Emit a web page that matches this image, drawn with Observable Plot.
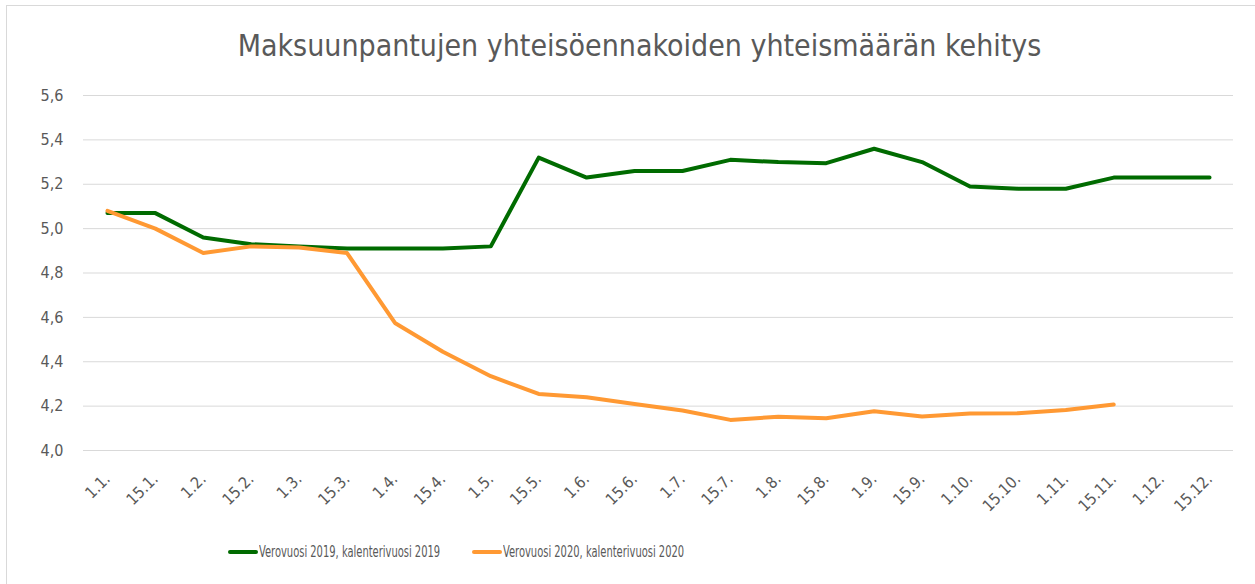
<!DOCTYPE html>
<html>
<head>
<meta charset="utf-8">
<script src="https://cdn.jsdelivr.net/npm/d3@7"></script>
<script src="https://cdn.jsdelivr.net/npm/@observablehq/plot@0.6"></script>
<style>
  body { margin: 0; background: #fff; }
  #wrap { position: relative; width: 1255px; height: 584px; overflow: hidden; font-family: "DejaVu Sans Condensed", "DejaVu Sans", sans-serif; }
  #frame { position: absolute; left: 6px; top: 5px; width: 1260px; height: 600px; border-top: 1px solid #d9d9d9; border-left: 1px solid #d9d9d9; }
  #title { position: absolute; left: 12px; width: 1255px; top: 27px; text-align: center; font-size: 30px; color: #595959; line-height: 38px; }
  #chart { position: absolute; left: 0; top: 75px; }
  #legend { position: absolute; left: 228px; top: 542px; height: 20px; font-size: 16px; color: #595959; line-height: 20px; }
  .item { position: absolute; top: 0; display: flex; align-items: center; white-space: nowrap; }
  .sw { width: 30px; height: 4px; border-radius: 2px; margin-right: 1px; flex: none; }
  .lbl { display: inline-block; transform: scaleX(0.69); transform-origin: 0 50%; }
</style>
</head>
<body>
<div id="wrap">
  <div id="frame"></div>
  <div id="title">Maksuunpantujen yhteisöennakoiden yhteismäärän kehitys</div>
  <div id="chart"></div>
  <div id="legend"></div>
</div>
<script>
const dates = ["1.1.","15.1.","1.2.","15.2.","1.3.","15.3.","1.4.","15.4.","1.5.","15.5.","1.6.","15.6.","1.7.","15.7.","1.8.","15.8.","1.9.","15.9.","1.10.","15.10.","1.11.","15.11.","1.12.","15.12."];
const v2019 = [5.07,5.07,4.96,4.93,4.92,4.91,4.91,4.91,4.92,5.32,5.23,5.26,5.26,5.31,5.30,5.295,5.36,5.30,5.19,5.18,5.18,5.23,5.23,5.23];
const v2020 = [5.08,5.00,4.89,4.92,4.915,4.89,4.575,4.445,4.335,4.255,4.24,4.21,4.18,4.138,4.152,4.145,4.177,4.153,4.167,4.168,4.183,4.207,null,null];
const seriesNames = ["Verovuosi 2019, kalenterivuosi 2019","Verovuosi 2020, kalenterivuosi 2020"];
const seriesColors = ["#006b00","#ff9933"];
const yTicks = [4.0,4.2,4.4,4.6,4.8,5.0,5.2,5.4,5.6];

const rows = [];
dates.forEach((d,i) => {
  rows.push({date: d, value: v2019[i], series: seriesNames[0]});
  rows.push({date: d, value: v2020[i], series: seriesNames[1]});
});

const chart = Plot.plot({
  width: 1255,
  height: 450,
  marginLeft: 83,
  marginRight: 22,
  marginTop: 20,
  marginBottom: 75,
  style: {color: "#595959", fontFamily: "'DejaVu Sans Condensed', 'DejaVu Sans', sans-serif", background: "transparent"},
  x: {type: "point", domain: dates, padding: 0.5, round: false, label: null},
  y: {domain: [4, 5.6], label: null},
  color: {domain: seriesNames, range: seriesColors},
  marks: [
    Plot.gridY(yTicks, {stroke: "#d9d9d9", strokeOpacity: 1, strokeWidth: 1}),
    Plot.axisY(yTicks, {tickSize: 0, tickPadding: 20, fontSize: 16, tickFormat: d => d.toFixed(1).replace(".", ","), label: null}),
    Plot.axisX({tickSize: 0, tickRotate: -45, tickPadding: 26, fontSize: 16, label: null}),
    Plot.lineY(rows.filter(r => r.value != null), {x: "date", y: "value", z: "series", stroke: "series", strokeWidth: 4, strokeLinejoin: "round", strokeLinecap: "round"})
  ]
});
document.getElementById("chart").appendChild(chart);

const legendLefts = [0, 244];
const legend = document.getElementById("legend");
seriesNames.forEach((name, i) => {
  const item = document.createElement("div");
  item.className = "item";
  item.style.left = legendLefts[i] + "px";
  const sw = document.createElement("div");
  sw.className = "sw";
  sw.style.background = seriesColors[i];
  const t = document.createElement("span");
  t.className = "lbl";
  t.textContent = name;
  item.appendChild(sw);
  item.appendChild(t);
  legend.appendChild(item);
});
</script>
</body>
</html>
